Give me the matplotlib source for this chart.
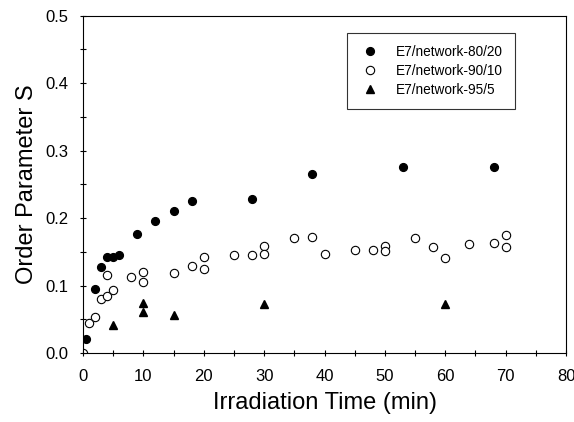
import matplotlib
matplotlib.use("Agg")
import matplotlib.pyplot as plt
from matplotlib.ticker import MultipleLocator

plt.rcParams['font.family'] = ['Liberation Sans', 'DejaVu Sans']

# E7/network-80/20 (filled circles)
t_80 = [0.5, 2, 3, 4, 5, 6, 9, 12, 15, 18, 28, 38, 53, 68]
s_80 = [0.021, 0.095, 0.128, 0.143, 0.142, 0.145, 0.176, 0.195, 0.210, 0.226,
        0.228, 0.265, 0.276, 0.276]

# E7/network-90/10 (open circles)
t_90 = [0, 1, 2, 3, 4, 4, 5, 8, 10, 10, 15, 18, 20, 20, 25, 28, 30, 30, 35, 38,
        40, 45, 48, 50, 50, 55, 58, 60, 64, 68, 70, 70]
s_90 = [0.0, 0.045, 0.053, 0.080, 0.084, 0.115, 0.094, 0.112, 0.120, 0.105,
        0.119, 0.129, 0.142, 0.124, 0.145, 0.146, 0.159, 0.147, 0.171, 0.172,
        0.147, 0.152, 0.153, 0.159, 0.151, 0.171, 0.157, 0.141, 0.162, 0.163,
        0.175, 0.157]

# E7/network-95/5 (filled triangles)
t_95 = [5, 10, 10, 15, 30, 60]
s_95 = [0.041, 0.074, 0.061, 0.056, 0.072, 0.072]

fig = plt.figure(figsize=(5.74, 4.22), dpi=100)
ax = fig.add_axes([0.1446, 0.1635, 0.8415, 0.7993])

ax.plot(t_80, s_80, 'o', color='black', markersize=5.6, label='E7/network-80/20')
ax.plot(t_90, s_90, 'o', markerfacecolor='white', markeredgecolor='black',
        markeredgewidth=0.8, markersize=6, label='E7/network-90/10')
ax.plot(t_95, s_95, '^', color='black', markersize=5.6, label='E7/network-95/5')

ax.set_xlim(0, 80)
ax.set_ylim(0, 0.5)
ax.xaxis.set_major_locator(MultipleLocator(10))
ax.xaxis.set_minor_locator(MultipleLocator(5))
ax.yaxis.set_major_locator(MultipleLocator(0.1))
ax.yaxis.set_minor_locator(MultipleLocator(0.05))
ax.yaxis.set_major_formatter(matplotlib.ticker.FormatStrFormatter('%.1f'))
ax.tick_params(which='both', direction='inout', length=5, width=0.8,
               labelsize=12, top=False, right=False)
ax.tick_params(axis='x', pad=9)
ax.tick_params(axis='y', pad=8)
for sp in ax.spines.values():
    sp.set_linewidth(0.8)

ax.set_xlabel('Irradiation Time (min)', fontsize=17, labelpad=6)
ax.set_ylabel('Order Parameter S', fontsize=17, labelpad=5)

leg = ax.legend(loc='upper left', bbox_to_anchor=(0.547, 0.949), fontsize=9.8,
                frameon=True, fancybox=False, edgecolor='black',
                handletextpad=1.2, borderpad=0.9, labelspacing=0.35,
                handlelength=1.5, borderaxespad=0)
leg.get_frame().set_linewidth(0.8)

fig.savefig('out.png', dpi=100)
